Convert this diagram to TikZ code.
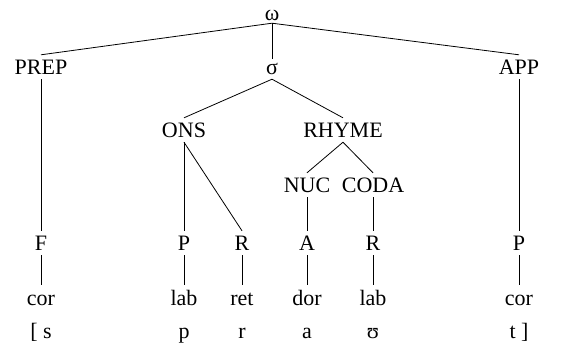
\documentclass[tikz,border=0pt]{standalone}
\usepackage{fontspec}
\setmainfont{Liberation Serif}
\begin{document}
\begin{tikzpicture}[x=1pt,y=-1pt,
  lbl/.style={font=\fontsize{22}{24}\selectfont, anchor=base, inner xsep=0pt, inner ysep=5pt, text depth=0pt},
  capnode/.style={lbl, text height=14pt},
  smlnode/.style={lbl, text height=10pt},
  lownode/.style={lbl, text height=15pt},
  ln/.style={line width=0.8pt}]
\useasboundingbox (0,0) rectangle (569,348);
% columns
\def\ca{41}\def\cb{184}\def\cc{242}\def\cd{307}\def\ce{373}\def\cf{519}\def\cw{272}
% nodes
\node[smlnode, inner ysep=3pt] (w) at (\cw,20) {ω};
\node[capnode] (prep) at (\ca,74) {PREP};
\node[smlnode] (sig) at (\cw,74) {σ};
\node[capnode] (app) at (\cf,74) {APP};
\node[capnode] (ons) at (\cb,137) {ONS};
\node[capnode] (rhyme) at (343,137) {RHYME};
\node[capnode] (nuc) at (\cd,192) {NUC};
\node[capnode] (coda) at (\ce,192) {CODA};
\node[capnode] (f1) at (\ca,250) {F};
\node[capnode] (f2) at (\cb,250) {P};
\node[capnode] (f3) at (\cc,250) {R};
\node[capnode] (f4) at (\cd,250) {A};
\node[capnode] (f5) at (\ce,250) {R};
\node[capnode] (f6) at (\cf,250) {P};
\node[lownode] (g1) at (\ca,305) {cor};
\node[lownode] (g2) at (\cb,305) {lab};
\node[lownode] (g3) at (\cc,305) {ret};
\node[lownode] (g4) at (\cd,305) {dor};
\node[lownode] (g5) at (\ce,305) {lab};
\node[lownode] (g6) at (\cf,305) {cor};
\node[lbl] (s1) at (\ca,338) {[ s};
\node[lbl] (s2) at (\cb,338) {p};
\node[lbl] (s3) at (\cc,338) {r};
\node[lbl] (s4) at (\cd,338) {a};
\node[lbl] (s5) at (\ce,338) {ʊ};
\node[lbl] (s6) at (\cf,338) {t ]};
% connectors
\draw[ln] (w.south) -- (prep.north);
\draw[ln] (w.south) -- (app.north);
\draw[ln] (w.south) -- (sig.north);
\draw[ln] (sig.south) -- (ons.north);
\draw[ln] (sig.south) -- (rhyme.north);
\draw[ln] (rhyme.south) -- (nuc.north);
\draw[ln] (rhyme.south) -- (coda.north);
\draw[ln] (prep.south) -- (f1.north);
\draw[ln] (app.south) -- (f6.north);
\draw[ln] (ons.south) -- (f2.north);
\draw[ln] (ons.south) -- (f3.north);
\draw[ln] (nuc.south) -- (f4.north);
\draw[ln] (coda.south) -- (f5.north);
\foreach \i in {1,...,6} \draw[ln] (f\i.south) -- (g\i.north);
\end{tikzpicture}
\end{document}
